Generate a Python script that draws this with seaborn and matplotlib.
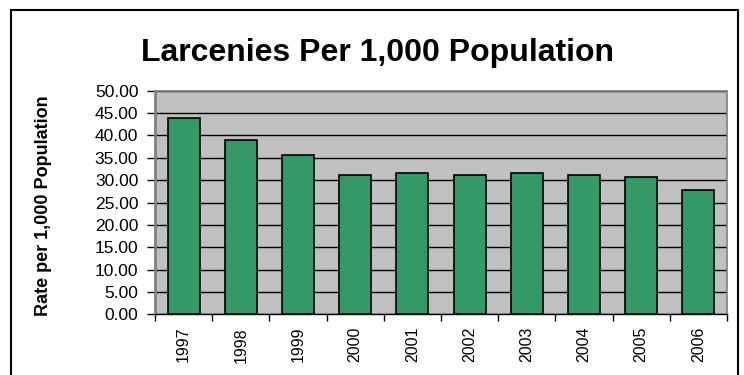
import numpy as np
import pandas as pd
import seaborn as sns
from matplotlib import pyplot as plt
from matplotlib.patches import Rectangle
from matplotlib.ticker import FormatStrFormatter, FixedLocator

years = ["1997", "1998", "1999", "2000", "2001", "2002", "2003", "2004", "2005", "2006"]
rates = [44.0, 38.9, 35.6, 31.1, 31.7, 31.1, 31.7, 31.1, 30.6, 27.7]

title = "Larcenies Per 1,000 Population"
y_label = "Rate per 1,000 Population"

sns.set_style("white")
plt.rcParams['font.family'] = ['Liberation Sans', 'DejaVu Sans']
plt.rcParams['text.color'] = 'black'
plt.rcParams['xtick.color'] = 'black'
plt.rcParams['ytick.color'] = 'black'

df = pd.DataFrame({"year": years, "rate": rates})

fig = plt.figure(figsize=(7.44, 3.75), dpi=100)
ax = fig.add_axes([155 / 744, 60.6 / 375, 572 / 744, 223.7 / 375])

sns.barplot(data=df, x="year", y="rate", color="#339966", saturation=1,
            width=0.56, edgecolor="black", linewidth=1.2, ax=ax, zorder=3)

ax.set_facecolor("#C0C0C0")
ax.set_ylim(0, 50)
ax.set_xlim(-0.5, len(years) - 0.5)
ax.set_yticks(np.arange(0, 51, 5))
ax.yaxis.set_major_formatter(FormatStrFormatter("%.2f"))
ax.yaxis.grid(True, color="black", linewidth=1)
ax.set_axisbelow(True)

# ticks between categories on the x axis
ax.xaxis.set_minor_locator(FixedLocator(np.arange(-0.5, len(years), 1)))
ax.tick_params(axis="x", which="major", length=0, pad=9, labelsize=11.5, rotation=90)
ax.tick_params(axis="x", which="minor", length=5, width=1, color="black", bottom=True)
ax.tick_params(axis="y", length=6, width=1, color="black", left=True, pad=6, labelsize=12.5)

ax.set_xlabel("")
ax.set_ylabel("")

for side in ["top", "right"]:
    ax.spines[side].set_color("#808080")
    ax.spines[side].set_linewidth(1.2)
ax.spines["left"].set_color("#808080")
ax.spines["left"].set_linewidth(2)
ax.spines["bottom"].set_color("black")
ax.spines["bottom"].set_linewidth(1)

fig.text(0.507, 0.858, title, ha="center", va="center", fontsize=23, fontweight="bold")
fig.text(0.059, 0.452, y_label, ha="center", va="center", rotation=90,
         fontsize=13, fontweight="bold")

fig.patches.append(Rectangle((11 / 744, -0.05), 727 / 744, 1.05 - 10 / 375,
                             transform=fig.transFigure, fill=False,
                             edgecolor="black", linewidth=1.5))

fig.savefig("out.png", dpi=100)
